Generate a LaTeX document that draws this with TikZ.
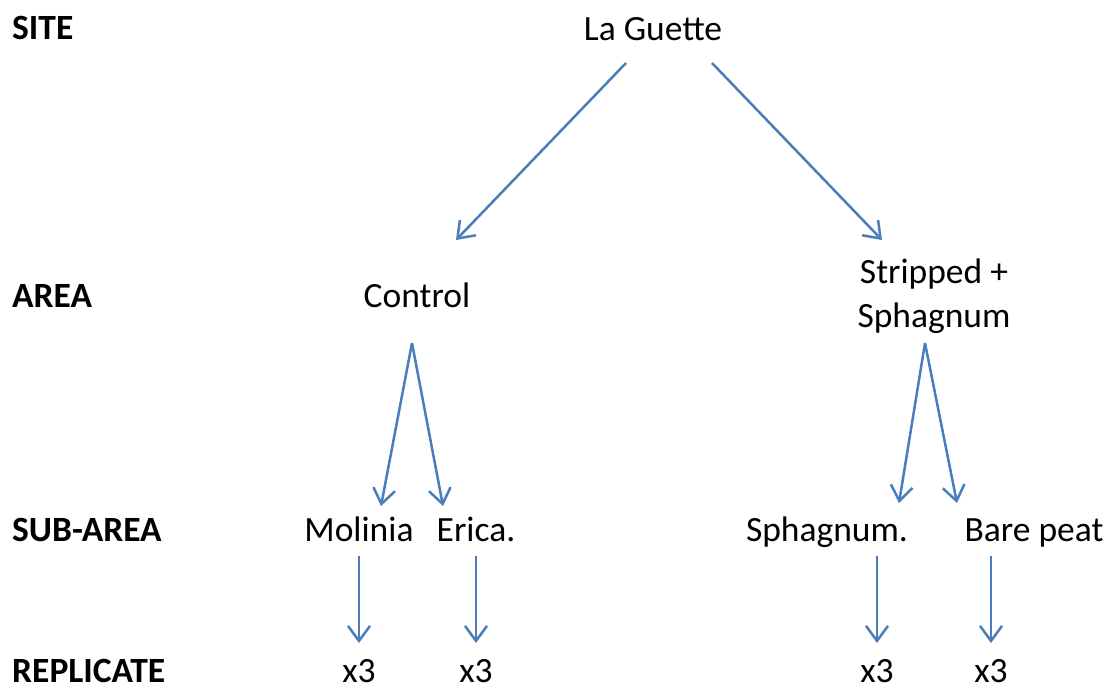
\documentclass[tikz,border=0pt]{standalone}
\usepackage{fontspec}
\setmainfont{Carlito}
\usetikzlibrary{arrows.meta}
\definecolor{linkblue}{HTML}{4A7EBB}
\begin{document}
\begin{tikzpicture}[x=1pt,y=-1pt,
  level/.style={anchor=base west,inner sep=0pt,font=\fontsize{35.5}{44}\selectfont\bfseries},
  item/.style={anchor=base,inner sep=0pt,font=\fontsize{35.5}{44}\selectfont},
  bottomrow/.style={text depth=0pt},
  link/.style={draw=linkblue,line width=2.5pt,-{Straight Barb[length=15pt,width=22pt,line width=2.5pt]}}]
\useasboundingbox (0,0) rectangle (1108,686);
% level labels on the left
\node[level] (site) at (12,39) {SITE};
\node[level] (area) at (12,307) {AREA};
\node[level] (sub) at (12,541) {SUB-AREA};
\node[level,bottomrow] (rep) at (12,682) {REPLICATE};
% tree nodes
\node[item] (guette) at (653,40) {La Guette};
\node[item] (control) at (417,307) {Control};
\node[item,align=center] (stripped) at (934,327) {Stripped +\\Sphagnum};
\node[item] (molinia) at (359,541) {Molinia};
\node[item] (erica) at (476,541) {Erica.};
\node[item] (sphag) at (827,541) {Sphagnum.};
\node[item] (bare) at (1034,541) {Bare peat};
\node[item,bottomrow] (r1) at (359,682) {x3};
\node[item,bottomrow] (r2) at (476,682) {x3};
\node[item,bottomrow] (r3) at (877,682) {x3};
\node[item,bottomrow] (r4) at (991,682) {x3};
% connector end points
\coordinate (gL) at (626,63);
\coordinate (gR) at (712,63);
\coordinate (cIn) at (456,240);
\coordinate (sIn) at (882,240);
\coordinate (cOut) at (412,343);
\coordinate (sOut) at (925,343);
\coordinate (mIn) at (381,506);
\coordinate (eIn) at (443,506);
\coordinate (spIn) at (899,503);
\coordinate (bIn) at (957,503);
\coordinate (m0) at (359,556);
\coordinate (m1) at (359,643);
\coordinate (e0) at (476,556);
\coordinate (e1) at (476,643);
\coordinate (s0) at (877,556);
\coordinate (s1) at (877,643);
\coordinate (b0) at (991,556);
\coordinate (b1) at (991,643);
% connectors
\draw[link] (gL) -- (cIn);
\draw[link] (gR) -- (sIn);
\draw[link] (cOut) -- (mIn);
\draw[link] (cOut) -- (eIn);
\draw[link] (sOut) -- (spIn);
\draw[link] (sOut) -- (bIn);
\draw[link] (m0) -- (m1);
\draw[link] (e0) -- (e1);
\draw[link] (s0) -- (s1);
\draw[link] (b0) -- (b1);
\end{tikzpicture}
\end{document}
